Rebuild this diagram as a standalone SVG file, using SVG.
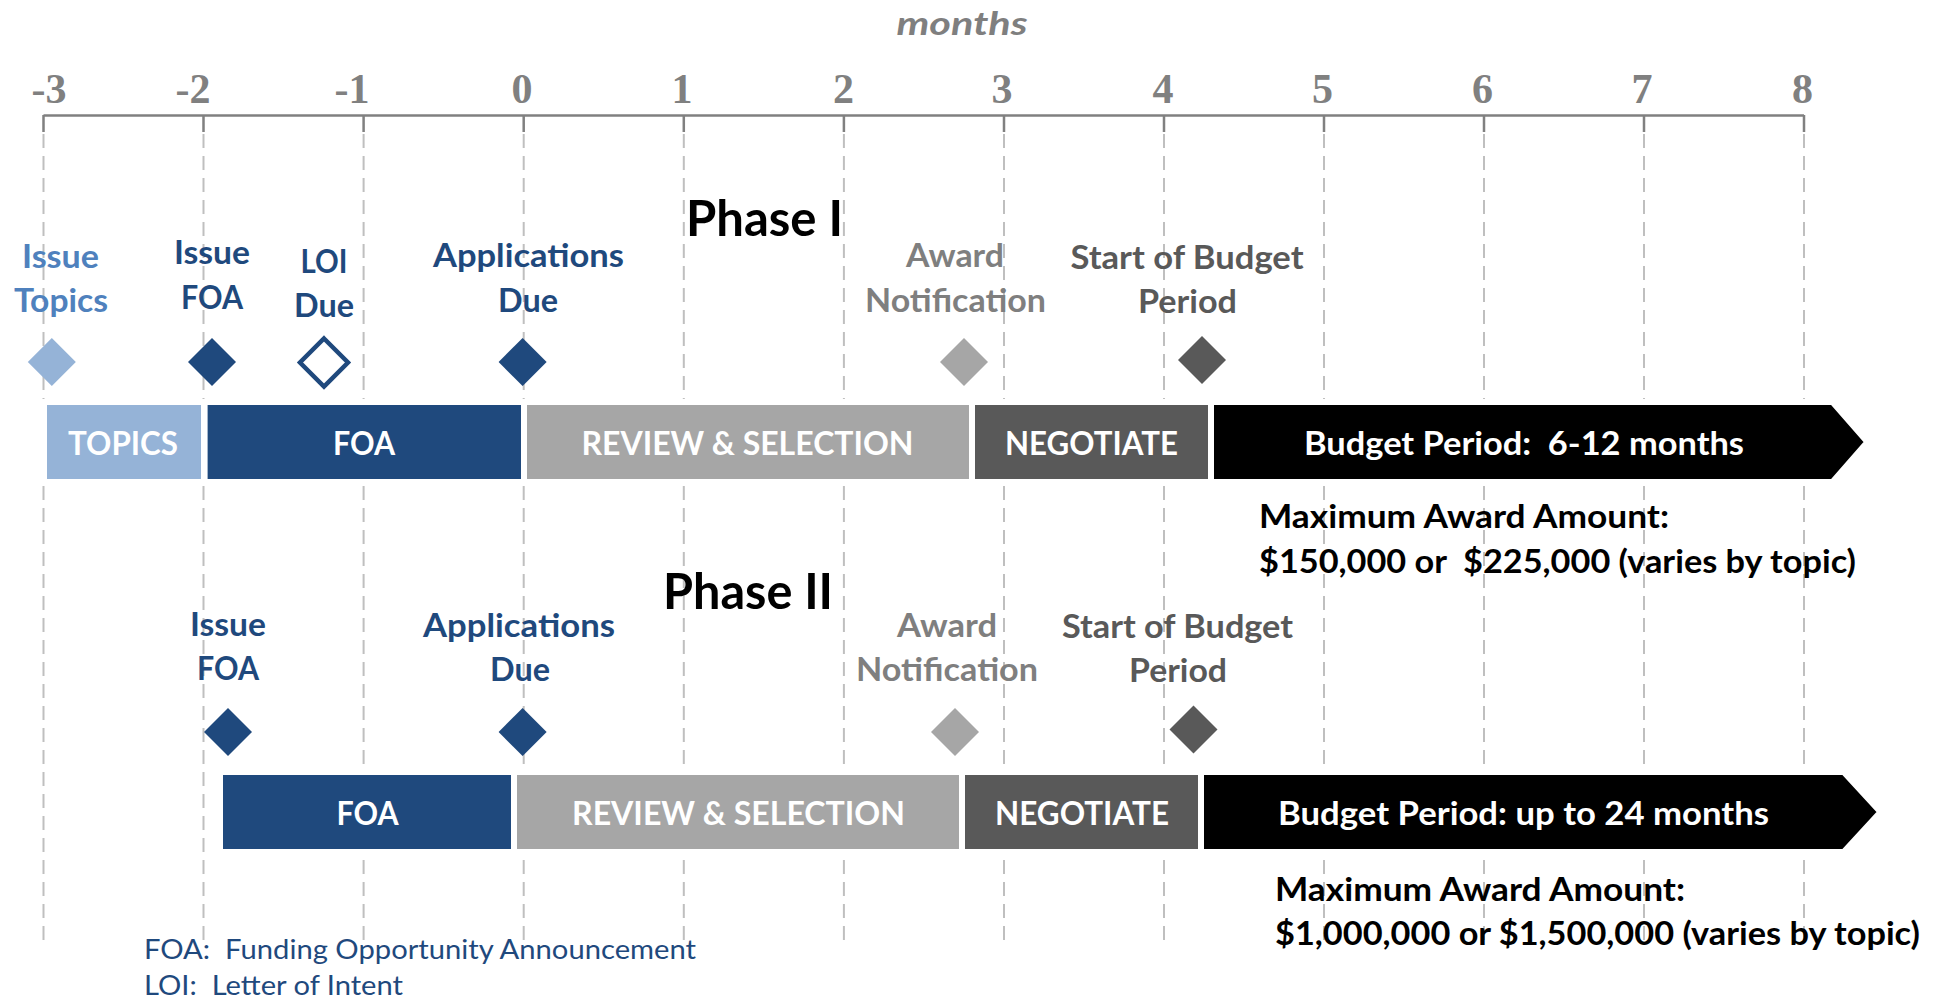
<svg xmlns="http://www.w3.org/2000/svg" width="1936" height="1002" viewBox="0 0 1936 1002">
<style>
.num{font-family:"Liberation Serif","Times New Roman",serif;font-weight:bold;font-size:42px;fill:#808080;text-anchor:middle}
.mon{font-family:Lato,"Open Sans",sans-serif;font-weight:bold;font-style:italic;font-size:32px;fill:#7f7f7f;text-anchor:middle}
.grid{stroke:#bfbfbf;stroke-width:2;stroke-dasharray:14 8;fill:none}
.tick{stroke:#808080;stroke-width:2.5;fill:none}
.lbl{font-family:Lato,"Open Sans",sans-serif;font-weight:bold;font-size:33px;text-anchor:middle}
.blue{fill:#1f497d}
.lblue{fill:#4f81bd}
.gray{fill:#7f7f7f}
.dgray{fill:#595959}
.phase{font-family:Lato,"Open Sans",sans-serif;font-weight:bold;font-size:50px;fill:#000}
.bar{stroke:#fff;stroke-width:6}
.bt{font-family:Lato,"Open Sans",sans-serif;font-weight:bold;font-size:32px;fill:#fff;text-anchor:middle}
.max{font-family:Lato,"Open Sans",sans-serif;font-weight:bold;font-size:32px;fill:#000}
.foot{font-family:Lato,"Open Sans",sans-serif;font-size:26px;fill:#1f497d}
</style>

<g id="axis">
  <text class="mon" x="962" y="35" textLength="131" lengthAdjust="spacingAndGlyphs">months</text>
  <text class="num" x="49" y="103">-3</text>
  <text class="num" x="193" y="103">-2</text>
  <text class="num" x="352" y="103">-1</text>
  <text class="num" x="522" y="103">0</text>
  <text class="num" x="682" y="103">1</text>
  <text class="num" x="843.5" y="103">2</text>
  <text class="num" x="1002" y="103">3</text>
  <text class="num" x="1163" y="103">4</text>
  <text class="num" x="1322.5" y="103">5</text>
  <text class="num" x="1482.5" y="103">6</text>
  <text class="num" x="1642" y="103">7</text>
  <text class="num" x="1802.5" y="103">8</text>
  <line class="tick" x1="43.5" y1="115.5" x2="1804" y2="115.5"/>
  <path class="tick" d="M43.5 115V132M203.5 115V132M363.6 115V132M523.7 115V132M683.8 115V132M843.9 115V132M1004 115V132M1164 115V132M1324 115V132M1484 115V132M1644 115V132M1804 115V132"/>
  <path class="grid" d="M43.5 134V948M203.5 134V948M363.6 134V948M523.7 134V948M683.8 134V948M843.9 134V948M1004 134V948M1164 134V948M1324 134V948M1484 134V948M1644 134V948M1804 134V948"/>
</g>

<g id="connectors"></g>

<g id="phase1">
  <text id="phase1-title" class="phase" x="686" y="236" textLength="157" lengthAdjust="spacingAndGlyphs">Phase I</text>

  <g id="p1-issue-topics">
    <text class="lbl lblue" x="60.5" y="268" textLength="77" lengthAdjust="spacingAndGlyphs">Issue</text>
    <text class="lbl lblue" x="61" y="312" textLength="94" lengthAdjust="spacingAndGlyphs">Topics</text>
    <polygon points="51.8,338 75.8,362 51.8,386 27.8,362" fill="#95b3d7"/>
  </g>
  <g id="p1-issue-foa">
    <text class="lbl blue" x="212" y="264" textLength="76" lengthAdjust="spacingAndGlyphs">Issue</text>
    <text class="lbl blue" x="212" y="309" textLength="62" lengthAdjust="spacingAndGlyphs">FOA</text>
    <polygon points="212,338 236,362 212,386 188,362" fill="#1f497d"/>
  </g>
  <g id="p1-loi-due">
    <text class="lbl blue" x="324" y="273" textLength="47" lengthAdjust="spacingAndGlyphs">LOI</text>
    <text class="lbl blue" x="324" y="317" textLength="60" lengthAdjust="spacingAndGlyphs">Due</text>
    <polygon points="324,338.5 348,362.5 324,386.5 300,362.5" fill="#fff" stroke="#1f497d" stroke-width="4.5"/>
  </g>
  <g id="p1-applications-due">
    <text class="lbl blue" x="528.5" y="267" textLength="191" lengthAdjust="spacingAndGlyphs">Applications</text>
    <text class="lbl blue" x="528" y="312" textLength="60" lengthAdjust="spacingAndGlyphs">Due</text>
    <polygon points="522.6,338 546.6,362 522.6,386 498.6,362" fill="#1f497d"/>
  </g>
  <g id="p1-award">
    <text class="lbl gray" x="955" y="267" textLength="98" lengthAdjust="spacingAndGlyphs">Award</text>
    <text class="lbl gray" x="955.5" y="312" textLength="181" lengthAdjust="spacingAndGlyphs">Notification</text>
    <polygon points="964,338 988,362 964,386 940,362" fill="#a6a6a6"/>
  </g>
  <g id="p1-start-budget">
    <text class="lbl dgray" x="1187" y="269" textLength="233" lengthAdjust="spacingAndGlyphs">Start of Budget</text>
    <text class="lbl dgray" x="1187.5" y="313" textLength="99" lengthAdjust="spacingAndGlyphs">Period</text>
    <polygon points="1202,336 1226,360 1202,384 1178,360" fill="#595959"/>
  </g>

  <g id="p1-topics-bar">
    <rect class="bar" x="44" y="402" width="160" height="80" fill="#95b3d7"/>
    <text class="bt" x="123" y="455" textLength="110" lengthAdjust="spacingAndGlyphs">TOPICS</text>
  </g>
  <g id="p1-foa-bar">
    <rect class="bar" x="204.6" y="402" width="319.4" height="80" fill="#1f497d"/>
    <text class="bt" x="364" y="455" textLength="62" lengthAdjust="spacingAndGlyphs">FOA</text>
  </g>
  <g id="p1-review-bar">
    <rect class="bar" x="524" y="402" width="448" height="80" fill="#a6a6a6"/>
    <text class="bt" x="747.5" y="455" textLength="332" lengthAdjust="spacingAndGlyphs">REVIEW &amp; SELECTION</text>
  </g>
  <g id="p1-negotiate-bar">
    <rect class="bar" x="972" y="402" width="239" height="80" fill="#595959"/>
    <text class="bt" x="1091.5" y="455" textLength="173" lengthAdjust="spacingAndGlyphs">NEGOTIATE</text>
  </g>
  <g id="p1-budget-arrow">
    <polygon class="bar" points="1211,402 1829,402 1829,398 1867.5,442 1829,486 1829,482 1211,482" fill="#000"/>
    <text class="bt" x="1524" y="455" textLength="440" lengthAdjust="spacingAndGlyphs" xml:space="preserve">Budget Period:  6-12 months</text>
  </g>
  <g id="p1-max-award">
    <text class="max" x="1259" y="528" textLength="410" lengthAdjust="spacingAndGlyphs">Maximum Award Amount:</text>
    <text class="max" x="1259" y="573" textLength="597" lengthAdjust="spacingAndGlyphs" xml:space="preserve">$150,000 or  $225,000 (varies by topic)</text>
  </g>
</g>

<g id="phase2">
  <text id="phase2-title" class="phase" x="663" y="609" textLength="170" lengthAdjust="spacingAndGlyphs">Phase II</text>

  <g id="p2-issue-foa">
    <text class="lbl blue" x="228" y="636" textLength="76" lengthAdjust="spacingAndGlyphs">Issue</text>
    <text class="lbl blue" x="228" y="680" textLength="62" lengthAdjust="spacingAndGlyphs">FOA</text>
    <polygon points="228,708 252,732 228,756 204,732" fill="#1f497d"/>
  </g>
  <g id="p2-applications-due">
    <text class="lbl blue" x="519" y="637" textLength="192" lengthAdjust="spacingAndGlyphs">Applications</text>
    <text class="lbl blue" x="520" y="681" textLength="60" lengthAdjust="spacingAndGlyphs">Due</text>
    <polygon points="522.6,708 546.6,732 522.6,756 498.6,732" fill="#1f497d"/>
  </g>
  <g id="p2-award">
    <text class="lbl gray" x="947" y="637" textLength="100" lengthAdjust="spacingAndGlyphs">Award</text>
    <text class="lbl gray" x="947" y="681" textLength="182" lengthAdjust="spacingAndGlyphs">Notification</text>
    <polygon points="955,708 979,732 955,756 931,732" fill="#a6a6a6"/>
  </g>
  <g id="p2-start-budget">
    <text class="lbl dgray" x="1177.5" y="638" textLength="231" lengthAdjust="spacingAndGlyphs">Start of Budget</text>
    <text class="lbl dgray" x="1178" y="682" textLength="98" lengthAdjust="spacingAndGlyphs">Period</text>
    <polygon points="1193.5,705.5 1217.5,729.5 1193.5,753.5 1169.5,729.5" fill="#595959"/>
  </g>

  <g id="p2-foa-bar">
    <rect class="bar" x="220" y="772" width="295" height="80" fill="#1f497d"/>
    <text class="bt" x="367.5" y="825" textLength="62" lengthAdjust="spacingAndGlyphs">FOA</text>
  </g>
  <g id="p2-review-bar">
    <rect class="bar" x="514" y="772" width="449" height="80" fill="#a6a6a6"/>
    <text class="bt" x="738.5" y="825" textLength="333" lengthAdjust="spacingAndGlyphs">REVIEW &amp; SELECTION</text>
  </g>
  <g id="p2-negotiate-bar">
    <rect class="bar" x="962" y="772" width="241" height="80" fill="#595959"/>
    <text class="bt" x="1082" y="825" textLength="174" lengthAdjust="spacingAndGlyphs">NEGOTIATE</text>
  </g>
  <g id="p2-budget-arrow">
    <polygon class="bar" points="1201,772 1840,772 1840,768 1880.5,812 1840,856 1840,852 1201,852" fill="#000"/>
    <text class="bt" x="1523.5" y="825" textLength="491" lengthAdjust="spacingAndGlyphs">Budget Period: up to 24 months</text>
  </g>
  <g id="p2-max-award">
    <text class="max" x="1275" y="901" textLength="410" lengthAdjust="spacingAndGlyphs">Maximum Award Amount:</text>
    <text class="max" x="1275" y="945" textLength="645" lengthAdjust="spacingAndGlyphs">$1,000,000 or $1,500,000 (varies by topic)</text>
  </g>
</g>

<g id="legend">
  <text class="foot" x="144" y="959" textLength="552" lengthAdjust="spacingAndGlyphs" xml:space="preserve">FOA:  Funding Opportunity Announcement</text>
  <text class="foot" x="144" y="995" textLength="259" lengthAdjust="spacingAndGlyphs" xml:space="preserve">LOI:  Letter of Intent</text>
</g>
</svg>
